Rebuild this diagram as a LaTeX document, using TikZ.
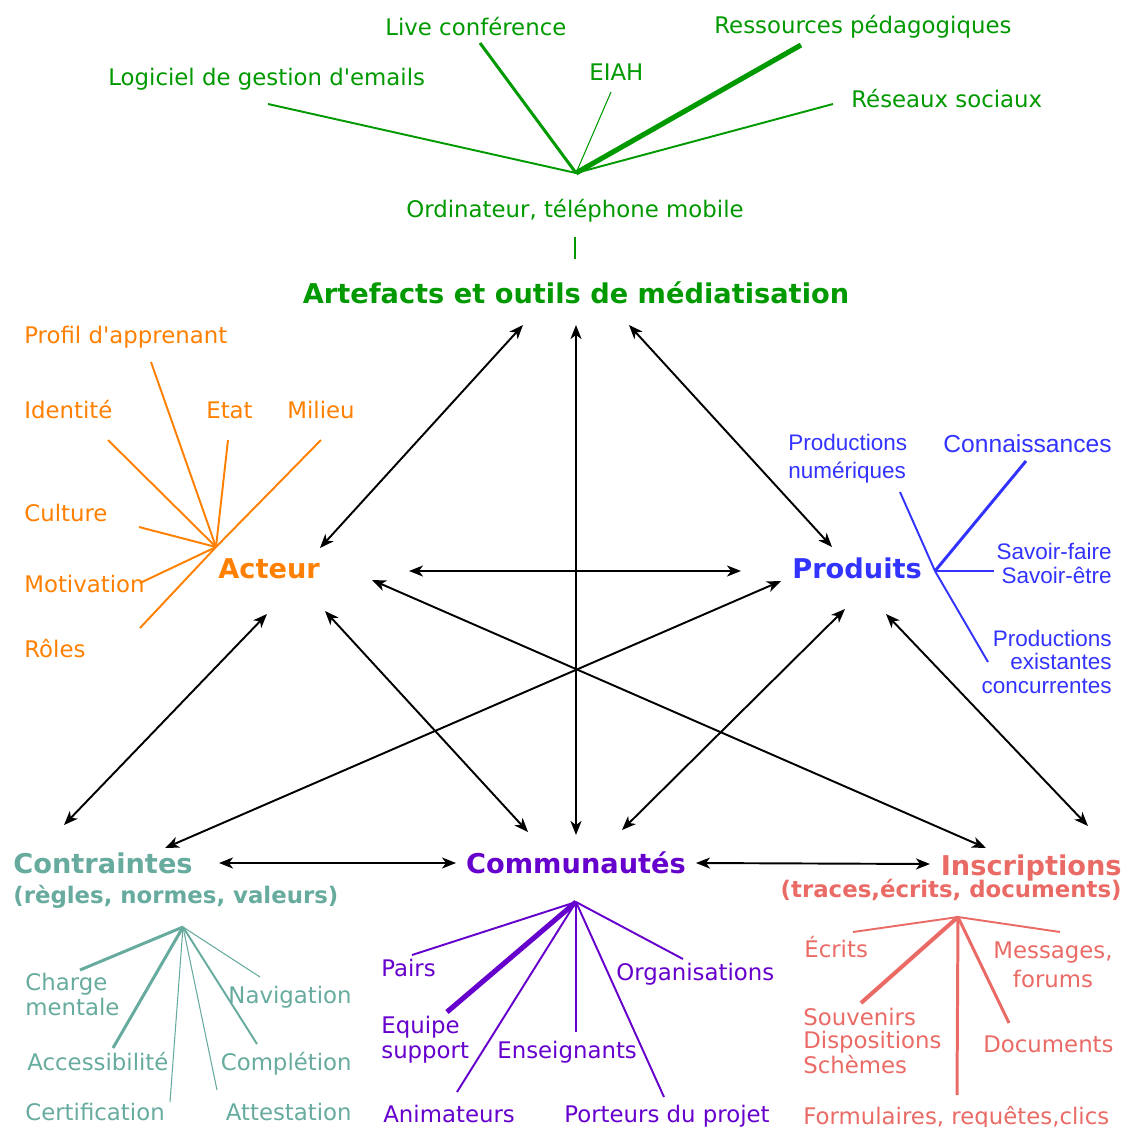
\documentclass[tikz,border=0pt]{standalone}
\usepackage{fontspec}
\setmainfont{DejaVu Sans}[Ligatures=TeXOff]
\newfontfamily\arialfont{Liberation Sans}
\usetikzlibrary{arrows.meta}

\definecolor{vert}{HTML}{009900}
\definecolor{orange}{HTML}{FF8000}
\definecolor{bleu}{HTML}{3333FF}
\definecolor{sarcelle}{HTML}{67AB9F}
\definecolor{violet}{HTML}{6600CC}
\definecolor{rouge}{HTML}{EA6B66}

\begin{document}
\begin{tikzpicture}[
            x = 0.02cm, y = -0.02cm, % one unit = one pixel
            > = {Stealth[length=0.28cm, width=0.22cm, inset=0.08cm]}, % arrow head style
            lien/.style = {<->, line width = 1.1pt, black},
            w1/.style = {line width = 0.6pt},
            w2/.style = {line width = 1.1pt},
            w3/.style = {line width = 1.7pt},
            w4/.style = {line width = 2.3pt},
            w5/.style = {line width = 2.9pt}
        ]

        \tikzstyle{lbl}=[inner sep = 0pt, font = \fontsize{13}{15}\selectfont]
        \tikzstyle{titre}=[inner sep = 0pt, font = \fontsize{15.5}{18}\selectfont\bfseries]
        \tikzstyle{soustitre}=[inner sep = 0pt, font = \fontsize{13}{15}\selectfont\bfseries]
        \tikzstyle{arial}=[inner sep = 0pt, font = \arialfont\fontsize{12.8}{13.2}\selectfont]

        \useasboundingbox (0,0) rectangle (1125,1127);

        % artefacts
        \node[titre, vert, anchor=base] (art) at (576,303) {Artefacts et outils de médiatisation};
        \node[lbl, vert, anchor=base] (ordi) at (575,217) {Ordinateur, téléphone mobile};
        \node[lbl, vert, anchor=base west] (logiciel) at (108,85) {Logiciel de gestion d'emails};
        \node[lbl, vert, anchor=base west] (live) at (385,35) {Live conférence};
        \node[lbl, vert, anchor=base west] (eiah) at (589,80) {EIAH};
        \node[lbl, vert, anchor=base west] (ressources) at (714,33) {Ressources pédagogiques};
        \node[lbl, vert, anchor=base west] (reseaux) at (851,107) {Réseaux sociaux};

        \coordinate (hubArt) at (576,173);
        \coordinate (logicielEnd) at (268,104);
        \coordinate (liveEnd) at (480,43);
        \coordinate (eiahEnd) at (611,92);
        \coordinate (ressourcesEnd) at (801,45);
        \coordinate (reseauxEnd) at (833,104);

        \draw[vert, w2] (hubArt) -- (logicielEnd);
        \draw[vert, w3] (hubArt) -- (liveEnd);
        \draw[vert, w1] (hubArt) -- (eiahEnd);
        \draw[vert, w5] (hubArt) -- (ressourcesEnd);
        \draw[vert, w2] (hubArt) -- (reseauxEnd);
        \draw[vert, w2, shorten <= 0.3cm, shorten >= 0.44cm] (ordi.south) -- (ordi.south |- art.north);

        % acteur
        \node[titre, orange, anchor=base west] (acteur) at (218,578) {Acteur};
        \node[lbl, orange, anchor=base west] (profil) at (24,343) {Profil d'apprenant};
        \node[lbl, orange, anchor=base west] (identite) at (24,418) {Identité};
        \node[lbl, orange, anchor=base west] (etat) at (206,418) {Etat};
        \node[lbl, orange, anchor=base west] (milieu) at (287,418) {Milieu};
        \node[lbl, orange, anchor=base west] (culture) at (24,521) {Culture};
        \node[lbl, orange, anchor=base west] (motivation) at (24,592) {Motivation};
        \node[lbl, orange, anchor=base west] (roles) at (24,657) {Rôles};

        \coordinate (hubAct) at (216,547);
        \coordinate (profilEnd) at (151,362);
        \coordinate (identiteEnd) at (108,440);
        \coordinate (etatEnd) at (228,440);
        \coordinate (milieuEnd) at (321,440);
        \coordinate (cultureEnd) at (139,527);
        \coordinate (motivationEnd) at (140,583);
        \coordinate (rolesEnd) at (140,628);

        \draw[orange, w2] (hubAct) -- (profilEnd);
        \draw[orange, w2] (hubAct) -- (identiteEnd);
        \draw[orange, w2] (hubAct) -- (etatEnd);
        \draw[orange, w2] (hubAct) -- (milieuEnd);
        \draw[orange, w2] (hubAct) -- (cultureEnd);
        \draw[orange, w2] (hubAct) -- (motivationEnd);
        \draw[orange, w2] (hubAct) -- (rolesEnd);

        % produits (multi-line nodes: base = last line)
        \node[titre, bleu, anchor=base west] (produits) at (792,578) {Produits};
        \node[arial, bleu, anchor=base west, align=left, font=\arialfont\fontsize{12.8}{15.4}\selectfont] (prodnum) at (788,478) {Productions\\numériques};
        \node[arial, bleu, anchor=base east, font=\arialfont\fontsize{14}{16}\selectfont] (connaissances) at (1112,452) {Connaissances};
        \node[arial, bleu, anchor=base east, align=right] (savoir) at (1112,583) {Savoir-faire\\Savoir-être};
        \node[arial, bleu, anchor=base east, align=right] (prodexist) at (1112,693) {Productions\\existantes\\concurrentes};

        \coordinate (hubProd) at (935,571);
        \coordinate (prodnumEnd) at (900,492);
        \coordinate (connaissancesEnd) at (1026,461);
        \coordinate (savoirEnd) at (994,571);
        \coordinate (prodexistEnd) at (988,662);

        \draw[bleu, w2] (hubProd) -- (prodnumEnd);
        \draw[bleu, w3] (hubProd) -- (connaissancesEnd);
        \draw[bleu, w2] (hubProd) -- (savoirEnd);
        \draw[bleu, w2] (hubProd) -- (prodexistEnd);

        % contraintes
        \node[titre, sarcelle, anchor=base west] (contraintes) at (13,873) {Contraintes};
        \node[soustitre, sarcelle, anchor=base west] (regles) at (13,903) {(règles, normes, valeurs)};
        \node[lbl, sarcelle, anchor=base west, align=left, font=\fontsize{13}{14.2}\selectfont] (charge) at (25,1015) {Charge\\mentale};
        \node[lbl, sarcelle, anchor=base east] (navigation) at (352,1003) {Navigation};
        \node[lbl, sarcelle, anchor=base west] (accessibilite) at (27,1070) {Accessibilité};
        \node[lbl, sarcelle, anchor=base east] (completion) at (352,1070) {Complétion};
        \node[lbl, sarcelle, anchor=base west] (certification) at (25,1120) {Certification};
        \node[lbl, sarcelle, anchor=base east] (attestation) at (352,1120) {Attestation};

        \coordinate (hubContr) at (183,927);
        \coordinate (chargeEnd) at (80,970);
        \coordinate (accessibiliteEnd) at (113,1048);
        \coordinate (certificationEnd) at (170,1102);
        \coordinate (attestationEnd) at (217,1090);
        \coordinate (completionEnd) at (257,1044);
        \coordinate (navigationEnd) at (260,977);

        \draw[sarcelle, w3] (hubContr) -- (chargeEnd);
        \draw[sarcelle, w3] (hubContr) -- (accessibiliteEnd);
        \draw[sarcelle, w1] (hubContr) -- (certificationEnd);
        \draw[sarcelle, w1] (hubContr) -- (attestationEnd);
        \draw[sarcelle, w2] (hubContr) -- (completionEnd);
        \draw[sarcelle, w1] (hubContr) -- (navigationEnd);

        % communautes
        \node[titre, violet, anchor=base] (communautes) at (576,873) {Communautés};
        \node[lbl, violet, anchor=base west] (pairs) at (381,976) {Pairs};
        \node[lbl, violet, anchor=base west] (organisations) at (616,980) {Organisations};
        \node[lbl, violet, anchor=base west, align=left, font=\fontsize{13}{14.2}\selectfont] (equipe) at (381,1058) {Equipe\\support};
        \node[lbl, violet, anchor=base west] (enseignants) at (497,1058) {Enseignants};
        \node[lbl, violet, anchor=base west] (animateurs) at (383,1122) {Animateurs};
        \node[lbl, violet, anchor=base west] (porteurs) at (564,1122) {Porteurs du projet};

        \coordinate (hubComm) at (576,902);
        \coordinate (pairsEnd) at (412,955);
        \coordinate (equipeEnd) at (447,1012);
        \coordinate (animateursEnd) at (457,1092);
        \coordinate (enseignantsEnd) at (576,1032);
        \coordinate (porteursEnd) at (664,1097);
        \coordinate (organisationsEnd) at (683,959);

        \draw[violet, w2] (hubComm) -- (pairsEnd);
        \draw[violet, w5] (hubComm) -- (equipeEnd);
        \draw[violet, w2] (hubComm) -- (animateursEnd);
        \draw[violet, w3] (hubComm) -- (enseignantsEnd);
        \draw[violet, w2] (hubComm) -- (porteursEnd);
        \draw[violet, w2] (hubComm) -- (organisationsEnd);

        % inscriptions
        \node[titre, rouge, anchor=base east] (inscriptions) at (1122,875) {Inscriptions};
        \node[soustitre, rouge, anchor=base east] (traces) at (1122,897) {(traces,écrits, documents)};
        \node[lbl, rouge, anchor=base west] (ecrits) at (804,957) {Écrits};
        \node[lbl, rouge, anchor=base, align=center, font=\fontsize{13}{16.5}\selectfont] (messages) at (1053,987) {Messages,\\forums};
        \node[lbl, rouge, anchor=base west, align=left, font=\fontsize{13}{13.1}\selectfont] (souvenirs) at (803,1073) {Souvenirs\\Dispositions\\Schèmes};
        \node[lbl, rouge, anchor=base west] (documents) at (983,1052) {Documents};
        \node[lbl, rouge, anchor=base west] (formulaires) at (803,1124) {Formulaires, requêtes,clics};

        \coordinate (hubInscr) at (958,917);
        \coordinate (ecritsEnd) at (853,932);
        \coordinate (messagesEnd) at (1060,932);
        \coordinate (souvenirsEnd) at (861,1003);
        \coordinate (documentsEnd) at (1009,1023);
        \coordinate (formulairesEnd) at (957,1095);

        \draw[rouge, w2] (hubInscr) -- (ecritsEnd);
        \draw[rouge, w2] (hubInscr) -- (messagesEnd);
        \draw[rouge, w4] (hubInscr) -- (souvenirsEnd);
        \draw[rouge, w3] (hubInscr) -- (documentsEnd);
        \draw[rouge, w3] (hubInscr) -- (formulairesEnd);

        % arrow ends
        \coordinate (art-sw) at (523,325);
        \coordinate (art-s) at (576,325);
        \coordinate (art-se) at (629,325);
        \coordinate (act-n) at (320,548);
        \coordinate (act-e) at (409,571);
        \coordinate (act-se) at (372,580);
        \coordinate (act-sw) at (267,614);
        \coordinate (act-s) at (325,611);
        \coordinate (prod-n) at (832,547);
        \coordinate (prod-w) at (741,571);
        \coordinate (prod-sw) at (781,581);
        \coordinate (prod-s) at (845,609);
        \coordinate (prod-se) at (886,614);
        \coordinate (contr-n) at (64,825);
        \coordinate (contr-ne) at (165,848);
        \coordinate (contr-e) at (219,863);
        \coordinate (comm-n) at (576,835);
        \coordinate (comm-nw) at (528,832);
        \coordinate (comm-ne) at (622,830);
        \coordinate (comm-w) at (456,863);
        \coordinate (comm-e) at (696,863);
        \coordinate (inscr-n) at (1088,826);
        \coordinate (inscr-nw) at (986,848);
        \coordinate (inscr-w) at (930,864);

        \path[lien] (art-sw) edge (act-n);
        \path[lien] (art-s) edge (comm-n);
        \path[lien] (art-se) edge (prod-n);
        \path[lien] (act-e) edge (prod-w);
        \path[lien] (act-se) edge (inscr-nw);
        \path[lien] (prod-sw) edge (contr-ne);
        \path[lien] (act-sw) edge (contr-n);
        \path[lien] (act-s) edge (comm-nw);
        \path[lien] (prod-s) edge (comm-ne);
        \path[lien] (prod-se) edge (inscr-n);
        \path[lien] (contr-e) edge (comm-w);
        \path[lien] (comm-e) edge (inscr-w);

    \end{tikzpicture}
\end{document}
